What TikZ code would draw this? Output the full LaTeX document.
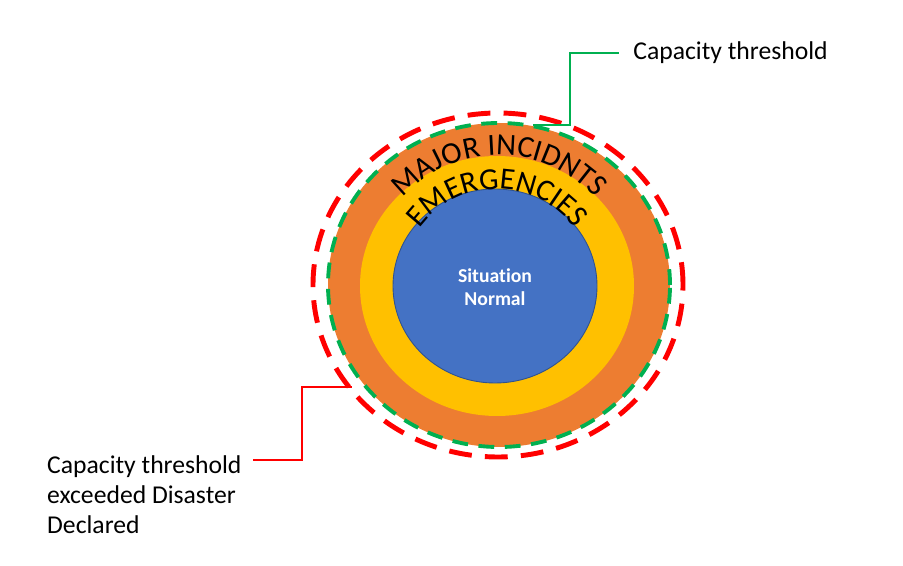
\documentclass[tikz,border=0pt]{standalone}
\usepackage{fontspec}
\setmainfont[Ligatures=NoCommon]{Carlito}
\usetikzlibrary{decorations.text}

\definecolor{ringorange}{HTML}{ED7D31}
\definecolor{ringyellow}{HTML}{FFC000}
\definecolor{coreblue}{HTML}{4472C4}
\definecolor{coreedge}{HTML}{2F528F}
\definecolor{limitgreen}{HTML}{00B050}
\definecolor{limitred}{HTML}{FF0000}

\begin{document}
\begin{tikzpicture}[x=0.02cm, y=0.02cm,
    label/.style={font=\fontsize{14.6}{17}\selectfont, align=left},
    greenlimit/.style={draw=limitgreen, line width=2.2pt, dash pattern=on 9pt off 6pt},
    redlimit/.style={draw=limitred, line width=2.8pt, dash pattern=on 13pt off 7.5pt},
    arctext/.style={decorate, decoration={text along path, text align=center,
        text={|\fontsize{17.5}{20}\selectfont|#1}}}]
    \useasboundingbox (0,0) rectangle (903,565);

    % rings
    \fill[ringorange] (499,280) ellipse[x radius=171, y radius=162];
    \fill[ringyellow] (497,279) ellipse[x radius=137, y radius=130];
    \filldraw[fill=coreblue, draw=coreedge, line width=0.5pt] (495,279) ellipse[x radius=102, y radius=97];

    % thresholds
    \draw[greenlimit] (499,280) ellipse[x radius=171, y radius=162];
    \draw[redlimit] (498,280) ellipse[x radius=185, y radius=172];

    % ring titles
    \path[arctext={MAJOR INCIDNTS}] (499,280) ++(160:130) arc[start angle=160, end angle=20, radius=130];
    \path[arctext={EMERGENCIES}] (497,280) ++(165:96) arc[start angle=165, end angle=15, radius=96];

    \node[font=\bfseries\fontsize{11.2}{13}\selectfont, text=white, align=center] (normal) at (495,278) {Situation\\Normal};

    % labels
    \node[label, anchor=west, inner xsep=8pt] (toplabel) at (619,512) {Capacity threshold};
    \node[label, anchor=west] (leftlabel) at (41,70) {Capacity threshold\\exceeded Disaster\\Declared};

    \coordinate (gtouch) at (533,440);
    \coordinate (rstart) at (253,105);
    \coordinate (rtouch) at (352,178);

    \draw[limitgreen, line width=1.6pt] (gtouch) -- ++(37,0) |- (toplabel.west);
    \draw[limitred, line width=1.6pt] (rstart) -- ++(49,0) |- (rtouch);
\end{tikzpicture}
\end{document}
